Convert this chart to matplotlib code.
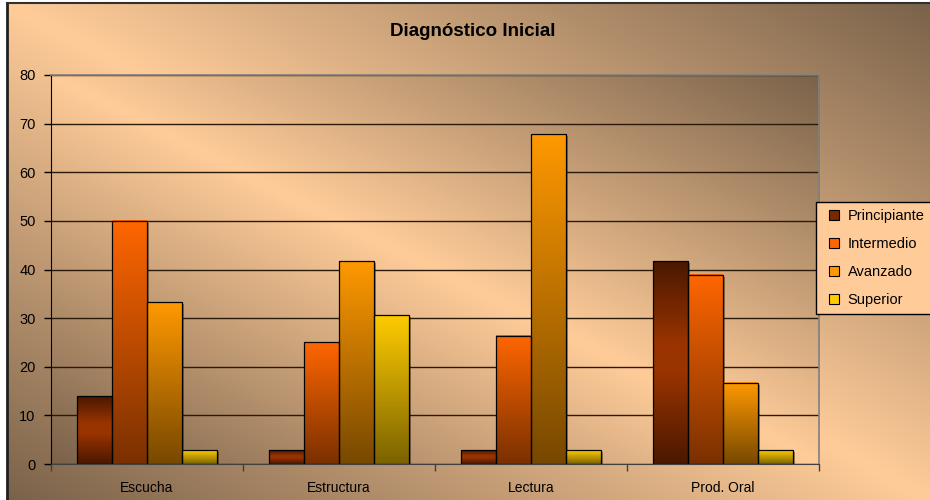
import numpy as np
import matplotlib.pyplot as plt
from matplotlib.colors import LinearSegmentedColormap
from matplotlib.lines import Line2D
from matplotlib.transforms import ScaledTranslation


categories = ['Escucha', 'Estructura', 'Lectura', 'Prod. Oral']
series_names = ['Principiante', 'Intermedio', 'Avanzado', 'Superior']
principiante = [13.9, 2.8, 2.8, 41.7]
intermedio = [50.0, 25.0, 26.4, 38.9]
avanzado = [33.3, 41.7, 67.9, 16.7]
superior = [2.8, 30.6, 2.8, 2.8]
series = [principiante, intermedio, avanzado, superior]
yticks = [0, 10, 20, 30, 40, 50, 60, 70, 80]

plt.rcParams['font.family'] = ['Liberation Sans', 'DejaVu Sans']

# bottom -> top colours of each series
cmaps = [
    LinearSegmentedColormap.from_list('p', [(0, '#4a1800'), (0.45, '#993300'), (0.6, '#993300'), (1, '#4a1800')]),
    LinearSegmentedColormap.from_list('i', ['#7a3000', '#ff6600']),
    LinearSegmentedColormap.from_list('a', ['#774800', '#ff9900']),
    LinearSegmentedColormap.from_list('s', ['#7a6200', '#ffcc00']),
]
legend_cols = ['#7a2800', '#ff6600', '#ff9900', '#ffcc00']

light = np.array([255, 204, 153]) / 255
dark = np.array([122, 98, 74]) / 255


def diag_gradient(nx, ny):
    u = np.linspace(0, 1, nx)[None, :]
    w = np.linspace(0, 1, ny)[:, None]
    d = np.abs(u - w)
    return light + (dark - light) * d[..., None]


fig = plt.figure(figsize=(9.3, 5), dpi=100)
fig.patch.set_facecolor('white')

# outer chart background
bg = fig.add_axes([7/930, 0, 1 - 7/930, 1 - 3/500], zorder=-10)
bg.imshow(diag_gradient(300, 200), aspect='auto', extent=(0, 1, 0, 1))
bg.set_xticks([])
bg.set_yticks([])
for s in ['right', 'bottom']:
    bg.spines[s].set_visible(False)
bg.spines['left'].set_color('#202020')
bg.spines['left'].set_linewidth(2)
bg.spines['top'].set_color('#303030')
bg.spines['top'].set_linewidth(1.5)

ax = fig.add_axes([51/930, 36/500, 768/930, 389/500])
ax.patch.set_visible(False)
ax.imshow(diag_gradient(300, 200), aspect='auto', extent=(0, 1, 0, 1),
          transform=ax.transAxes, zorder=0)

x = np.arange(len(categories))
w = 1 / 5.5
offsets = (np.arange(4) - 1.5) * w
grad = np.linspace(0, 1, 256).reshape(-1, 1)
shadow_tr = ax.transData + ScaledTranslation(2/100, -2/100, fig.dpi_scale_trans)

for i, vals in enumerate(series):
    ax.bar(x + offsets[i], vals, w, color='black', alpha=0.35, zorder=2.4,
           transform=shadow_tr)
    bars = ax.bar(x + offsets[i], vals, w, facecolor='none', edgecolor='black',
                  lw=0.9, zorder=3)
    for b in bars:
        x0 = b.get_x()
        ax.imshow(grad, cmap=cmaps[i], aspect='auto', origin='lower',
                  extent=(x0, x0 + w, 0, b.get_height()), zorder=2.5)

ax.set_xlim(-0.5, 3.5)
ax.set_ylim(0, 80)
ax.set_axisbelow(True)
ax.yaxis.grid(True, color='#2a1a0a', lw=1)

ax.set_yticks(yticks)
ax.tick_params(axis='y', direction='out', length=5, width=1, color='black',
               labelsize=10.5, pad=6)
ax.set_xticks(x, categories)
ax.set_xticks([-0.5, 0.5, 1.5, 2.5, 3.5], minor=True)
ax.tick_params(axis='x', which='major', length=0, pad=12, labelsize=10)
ax.tick_params(axis='x', which='minor', direction='out', length=5, width=1,
               color='#404040')

ax.spines['left'].set_color('black')
ax.spines['bottom'].set_color('#404040')
for s in ['top', 'right']:
    ax.spines[s].set_color('#808080')
    ax.spines[s].set_linewidth(1.2)

fig.text(473/930, 1 - 32/500, 'Diagnóstico Inicial', ha='center', va='center',
         fontsize=13.5, weight='bold')

handles = [Line2D([], [], marker='s', linestyle='none', markersize=7,
                  markerfacecolor=c, markeredgecolor='black', markeredgewidth=0.8)
           for c in legend_cols]
leg = fig.legend(handles, series_names, loc='upper left',
                 bbox_to_anchor=(815.7/930, 1 - 202/500), frameon=True,
                 fancybox=False, edgecolor='black', facecolor='#ffcc99',
                 framealpha=1, fontsize=10.5, labelspacing=0.95, handlelength=1.5,
                 handleheight=0.7, handletextpad=0.2, borderpad=0.5,
                 borderaxespad=0)
leg.get_frame().set_linewidth(1)

fig.savefig('out.png', dpi=100)
